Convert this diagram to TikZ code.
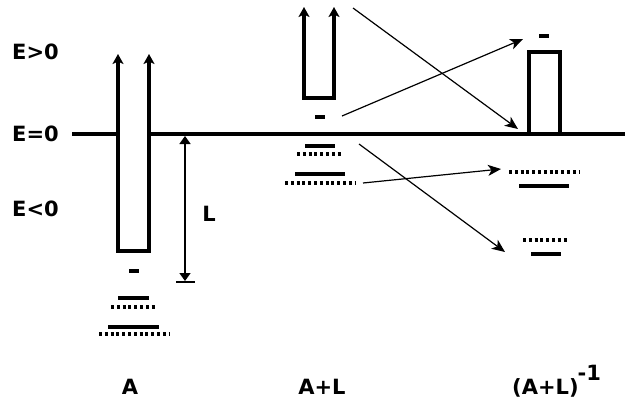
\documentclass[tikz,border=0pt]{standalone}
\usepackage{fontspec}
\setmainfont{DejaVu Sans}
\usetikzlibrary{arrows.meta}
\begin{document}
\begin{tikzpicture}[x=1pt,y=-1pt,
  solidlevel/.style={line width=3.4pt},
  dotlevel/.style={line width=3.4pt, dash pattern=on 3pt off 2.8pt},
  well/.style={line width=3.4pt, line join=miter},
  wellopen/.style={well, {Stealth[length=10pt,width=11pt,inset=2.5pt]}-{Stealth[length=10pt,width=11pt,inset=2.5pt]}},
  trans/.style={line width=1.2pt, -{Stealth[length=13pt,width=11pt,inset=3.5pt]}},
  lbl/.style={font=\bfseries\fontsize{21}{21}\selectfont, inner sep=0pt, anchor=base},
  elbl/.style={lbl, anchor=base west}]

\useasboundingbox (0,0) rectangle (625,408);

% energy labels
\node[elbl] (epos) at (12,59) {E>0};
\node[elbl] (ezero) at (12,141) {E=0};
\node[elbl] (eneg) at (12,216) {E<0};

% zero-energy line, interrupted by the well A
\draw[solidlevel] (72,134) -- (118,134);
\draw[solidlevel] (149,134) -- (625,134);

% well A
\draw[wellopen] (118,54) -- (118,251) -- (149,251) -- (149,54);
\draw[solidlevel] (129,271) -- (139,271);
\draw[solidlevel] (118,298) -- (149,298);
\draw[dotlevel]   (111,307) -- (157,307);
\draw[solidlevel] (108,327) -- (159,327);
\draw[dotlevel]   (99,334) -- (170,334);

% depth L
\draw[line width=1.5pt, {Triangle[length=8pt,width=11pt]}-{Triangle[length=8pt,width=11pt]}] (185,136) -- (185,281);
\draw[line width=2.2pt] (176,282) -- (195,282);
\node[lbl] (depth) at (209,221) {L};

% well A+L (raised above zero)
\draw[wellopen] (304,7) -- (304,98) -- (334,98) -- (334,7);
\draw[solidlevel] (315,117) -- (325,117);
\draw[solidlevel] (305,146) -- (335,146);
\draw[dotlevel]   (297,154) -- (343,154);
\draw[solidlevel] (295,174) -- (345,174);
\draw[dotlevel]   (285,183) -- (355,183);

% barrier (A+L)^-1
\draw[well] (529,134) -- (529,52) -- (560,52) -- (560,134);
\draw[solidlevel] (539,36) -- (549,36);
\draw[dotlevel]   (509,172) -- (579,172);
\draw[solidlevel] (519,186) -- (569,186);
\draw[dotlevel]   (523,240) -- (569,240);
\draw[solidlevel] (531,254) -- (561,254);

% transitions
\coordinate (s1) at (353,8);   \coordinate (t1) at (518,129);
\coordinate (s2) at (342,116); \coordinate (t2) at (523,39);
\coordinate (s3) at (363,183); \coordinate (t3) at (501,169);
\coordinate (s4) at (359,144); \coordinate (t4) at (505,252);
\draw[trans] (s1) -- (t1);
\draw[trans] (s2) -- (t2);
\draw[trans] (s3) -- (t3);
\draw[trans] (s4) -- (t4);

% operator labels
\node[lbl] (la) at (130,394) {A};
\node[lbl] (lal) at (322,394) {A+L};
\node[lbl, anchor=base west] (linv) at (512,394) {(A+L)\kern-1pt\raisebox{14pt}{-1}};
\end{tikzpicture}
\end{document}
